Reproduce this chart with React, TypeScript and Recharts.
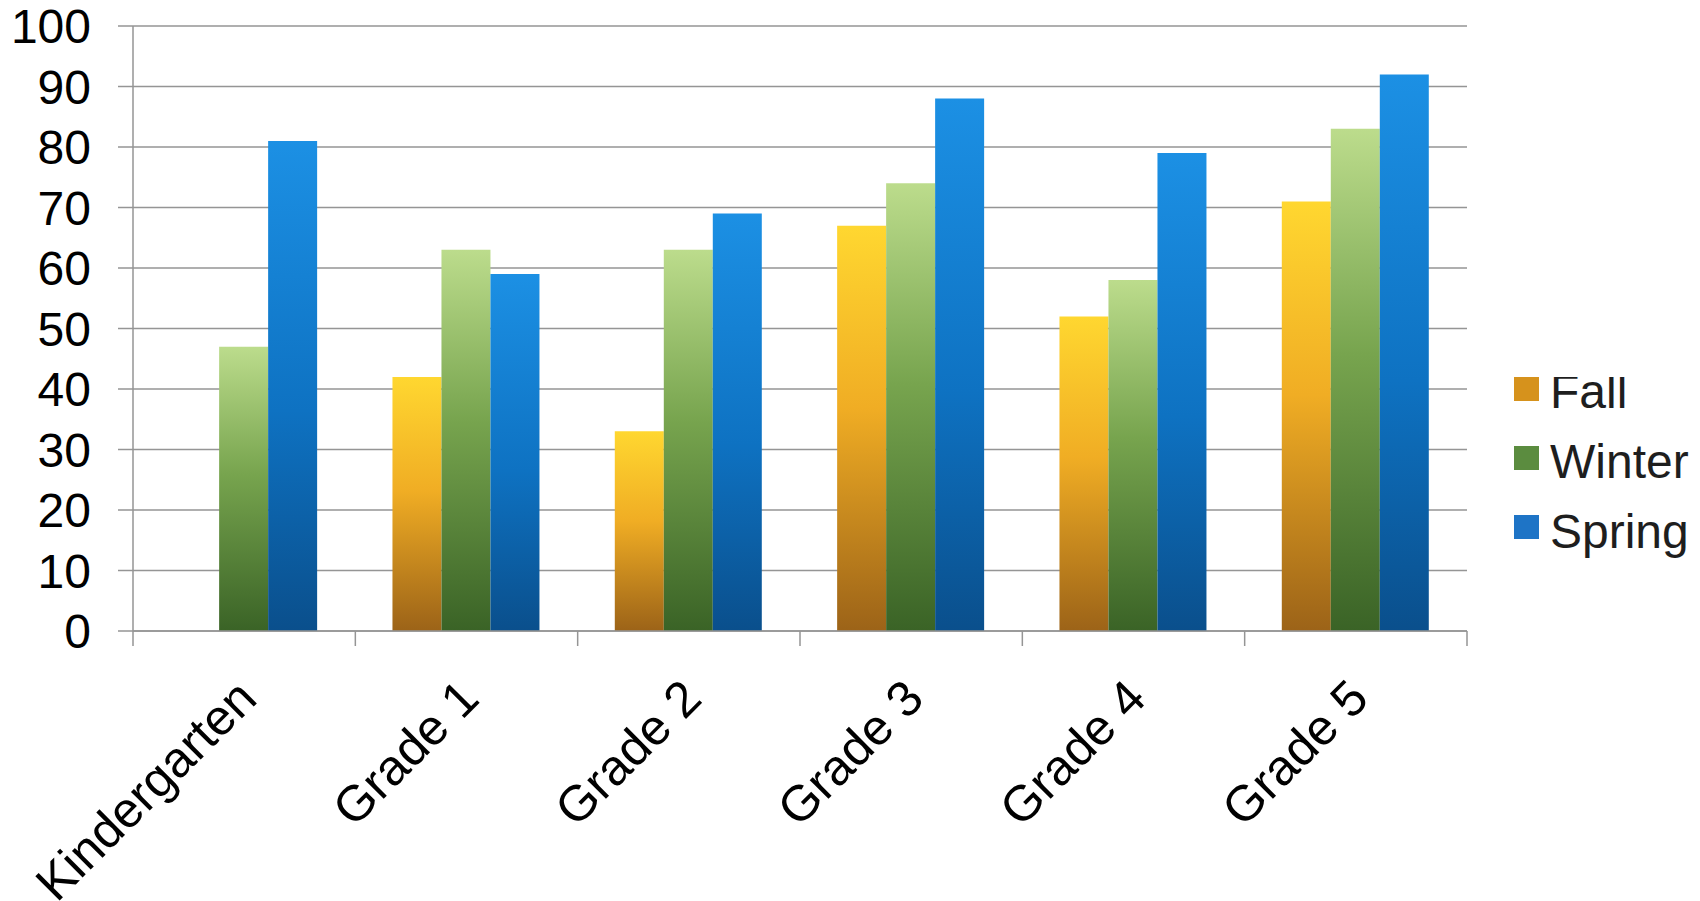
import { Bar, BarChart, CartesianGrid, Legend, XAxis, YAxis } from "recharts";

const GRADES = ["Kindergarten", "Grade 1", "Grade 2", "Grade 3", "Grade 4", "Grade 5"];
const FALL: (number | null)[] = [null, 42, 33, 67, 52, 71];
const WINTER = [47, 63, 63, 74, 58, 83];
const SPRING = [81, 59, 69, 88, 79, 92];
const Y_TICKS = [0, 10, 20, 30, 40, 50, 60, 70, 80, 90, 100];

const SERIES = [
  { key: "fall", name: "Fall", swatch: "#d6921c" },
  { key: "winter", name: "Winter", swatch: "#5b8c3f" },
  { key: "spring", name: "Spring", swatch: "#1e74c6" },
];

const data = GRADES.map((grade, i) => ({
  grade,
  fall: FALL[i],
  winter: WINTER[i],
  spring: SPRING[i],
}));

const W = 1700;
const H = 901;
const MARGIN = { top: 26, right: 233, bottom: 0, left: 0 };
const Y_WIDTH = 133;
const BAND = (W - MARGIN.left - MARGIN.right - Y_WIDTH) / GRADES.length;
const FONT = "'Liberation Sans', Arial, sans-serif";
const GRAY = "#959595";

// category labels sit at -45deg, with ticks drawn on the band edges (Excel style)
function CategoryTick(props: any) {
  const { x, y, payload, index } = props;
  const left = x - BAND / 2;
  return (
    <g>
      <line x1={left} y1={y} x2={left} y2={y + 15} stroke={GRAY} strokeWidth={1.5} />
      {index === GRADES.length - 1 && (
        <line x1={x + BAND / 2} y1={y} x2={x + BAND / 2} y2={y + 15} stroke={GRAY} strokeWidth={1.5} />
      )}
      <text
        transform={`translate(${x + 15},${y + 70}) rotate(-45)`}
        textAnchor="end"
        fontSize={50}
        fontFamily={FONT}
        fill="#000"
      >
        {payload.value}
      </text>
    </g>
  );
}

function SeasonLegend() {
  return (
    <svg width={186} height={200}>
      {SERIES.map((s, i) => (
        <g key={s.key}>
          <rect x={0} y={i * 69} width={25} height={24} fill={s.swatch} />
          <text x={36} y={31 + i * 70} fontSize={48} fontFamily={FONT} fill="#1e1e1e">
            {s.name}
          </text>
        </g>
      ))}
    </svg>
  );
}

export default function App() {
  return (
    <div style={{ position: "absolute", left: 0, top: 0, width: W, height: H, background: "#fff" }}>
      <BarChart
        width={W}
        height={H}
        data={data}
        margin={MARGIN}
        barCategoryGap="16.7%"
        barGap={0}
      >
        <defs>
          <linearGradient id="gFall" x1="0" y1="0" x2="0" y2="1">
            <stop offset="0%" stopColor="#ffd730" />
            <stop offset="45%" stopColor="#f0ad24" />
            <stop offset="100%" stopColor="#9c6318" />
          </linearGradient>
          <linearGradient id="gWinter" x1="0" y1="0" x2="0" y2="1">
            <stop offset="0%" stopColor="#bcdc8c" />
            <stop offset="45%" stopColor="#77a44e" />
            <stop offset="100%" stopColor="#3a6326" />
          </linearGradient>
          <linearGradient id="gSpring" x1="0" y1="0" x2="0" y2="1">
            <stop offset="0%" stopColor="#1c90e4" />
            <stop offset="55%" stopColor="#0e72c2" />
            <stop offset="100%" stopColor="#0a4f8c" />
          </linearGradient>
        </defs>
        <CartesianGrid vertical={false} stroke={GRAY} strokeWidth={1.5} />
        <XAxis
          dataKey="grade"
          interval={0}
          height={270}
          tickSize={0}
          tickMargin={0}
          tickLine={false}
          axisLine={{ stroke: GRAY, strokeWidth: 1.5 }}
          tick={<CategoryTick />}
        />
        <YAxis
          width={Y_WIDTH}
          domain={[0, 100]}
          ticks={Y_TICKS}
          interval={0}
          tickSize={15}
          tickMargin={27}
          axisLine={{ stroke: GRAY, strokeWidth: 1.5 }}
          tickLine={{ stroke: GRAY, strokeWidth: 1.5 }}
          tick={{ fontSize: 48, fontFamily: FONT, fill: "#000" }}
        />
        <Legend
          layout="vertical"
          align="center"
          verticalAlign="middle"
          wrapperStyle={{ left: 1514, top: 377, width: 186 }}
          content={() => <SeasonLegend />}
        />
        <Bar dataKey="fall" name="Fall" fill="url(#gFall)" isAnimationActive={false} />
        <Bar dataKey="winter" name="Winter" fill="url(#gWinter)" isAnimationActive={false} />
        <Bar dataKey="spring" name="Spring" fill="url(#gSpring)" isAnimationActive={false} />
      </BarChart>
    </div>
  );
}
